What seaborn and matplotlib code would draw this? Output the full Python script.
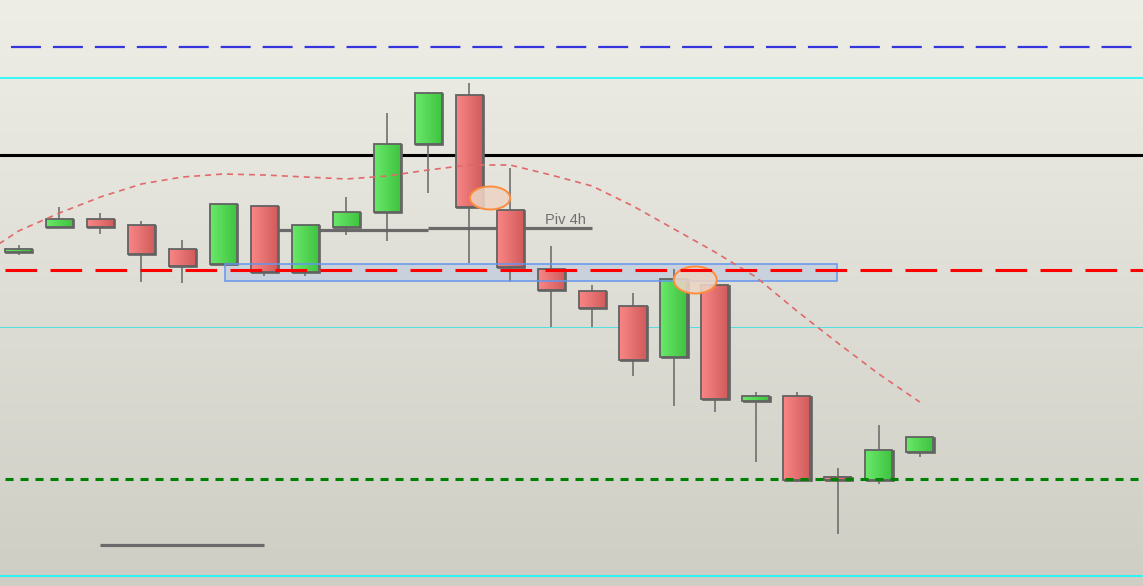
import numpy as np
import pandas as pd
import seaborn as sns
import matplotlib.pyplot as plt
from matplotlib.colors import LinearSegmentedColormap
from matplotlib.patches import Rectangle, Ellipse

# velas (indice 0..22), precos
abertura = [334, 359, 367, 361, 337, 322, 380, 314, 359, 374, 442, 491, 376,
            317, 295, 280, 229, 301, 185, 190, 109, 106, 134]
maxima = [341, 379, 373, 365, 346, 382, 380, 361, 389, 473, 494, 503, 418,
          340, 301, 293, 317, 301, 194, 194, 118, 161, 149]
minima = [331, 359, 352, 304, 303, 322, 310, 310, 351, 345, 393, 323, 304,
          259, 259, 210, 180, 174, 124, 104, 52, 102, 129]
fechamento = [337, 367, 359, 332, 320, 382, 314, 361, 374, 442, 493, 379, 319,
              296, 278, 226, 307, 187, 190, 106, 106.5, 136, 149]

# media movel
media_idx = list(range(-1, 23))
media = [328, 355, 373, 389, 402, 409, 412, 411, 409, 407, 410, 416, 421,
         421, 411, 400, 380, 357, 334, 309, 275, 243, 212, 184]

# niveis horizontais
nivel_azul = 539
nivel_ciano = [508, 259, 10]
nivel_preto = 431
nivel_vermelho = 316
nivel_verde = 107
zona = (5.04, 19.98, 305, 322)
pivos = [(2, 6, 41), (6, 10, 356), (10, 14, 358)]

sns.set_style("white")
plt.rcParams['lines.scale_dashes'] = False
plt.rcParams['font.family'] = ['Liberation Sans', 'DejaVu Sans']

fig = plt.figure(figsize=(11.43, 5.86), dpi=100)
ax = fig.add_axes([0, 0, 1, 1])
ax.set_axis_off()
x0, x1 = -0.452, 27.45

fundo = LinearSegmentedColormap.from_list('fundo', ['#cfcec5', '#eeeee7'])
ax.imshow(np.linspace(0, 1, 256).reshape(-1, 1), extent=[x0, x1, 0, 586],
          origin='lower', cmap=fundo, aspect='auto', zorder=0)

# linhas
ax.axhline(nivel_azul, color='#3535dd', lw=1.6, linestyle=(22.3, (21.6, 8.6)), zorder=1)
ax.axhline(nivel_ciano[0], color='#00ffff', lw=1.1, zorder=1)
ax.axhline(nivel_ciano[1], color='#50e0e0', lw=0.7, zorder=1)
ax.axhline(nivel_ciano[2], color='#00ffff', lw=1.1, zorder=1)
ax.axhline(nivel_preto, color='black', lw=2.2, zorder=1)

# zona
ax.add_patch(Rectangle((zona[0], zona[2]), zona[1] - zona[0], zona[3] - zona[2],
                       facecolor='#c9d1dc', edgecolor='none', zorder=2))
ax.add_patch(Rectangle((zona[0], zona[2]), zona[1] - zona[0], zona[3] - zona[2],
                       facecolor='none', edgecolor='#6495ed', lw=1.1, zorder=4.5))

for a, b, y in pivos:
    ax.plot([a, b], [y, y], color='#6a6a6a', lw=2.3, solid_capstyle='butt', zorder=2.5)

ax.text(12.85, 362, 'Piv 4h', fontsize=10.5, color='#707070', va='baseline', zorder=6)

verde = LinearSegmentedColormap.from_list('verde', ['#6ae86a', '#3ec23e'])
vermelho = LinearSegmentedColormap.from_list('vermelho', ['#f98686', '#d05a5a'])
grad = np.linspace(0, 1, 64).reshape(1, -1)

w = 0.66
for i, (o, h, l, c) in enumerate(zip(abertura, maxima, minima, fechamento)):
    sobe = c >= o
    base, topo = min(o, c), max(o, c)
    ax.vlines(i, l, h, color='#666666', lw=1.1, zorder=3)
    ax.add_patch(Rectangle((i - w / 2 + 0.035, base - 1), w, topo - base,
                           facecolor='#626262', edgecolor='#626262', lw=1.2, zorder=3.5))
    ax.imshow(grad, extent=[i - w / 2, i + w / 2, base, topo],
              cmap=verde if sobe else vermelho, aspect='auto', zorder=3.8)
    ax.add_patch(Rectangle((i - w / 2, base), w, topo - base, facecolor='none',
                           edgecolor='#626262', lw=1.3, zorder=4))

ax.add_patch(Ellipse((11.51, 388), 0.98, 23, facecolor=(0.92, 0.83, 0.77, 0.88),
                     edgecolor='#ff8c3c', lw=1.4, zorder=5))
ax.add_patch(Ellipse((16.52, 306), 1.05, 27, facecolor=(0.92, 0.83, 0.77, 0.88),
                     edgecolor='#ff8c3c', lw=1.4, zorder=5))

df_media = pd.DataFrame({'idx': media_idx, 'media': media})
sns.lineplot(data=df_media, x='idx', y='media', ax=ax, color='#e06a6a', lw=1.2,
             linestyle=(0, (4.3, 3.6)), zorder=5.5)

ax.axhline(nivel_vermelho, color='#ff0000', lw=2.2, linestyle=(28.8, (22.8, 9.6)), zorder=6)
ax.axhline(nivel_verde, color='#008000', lw=2.2, linestyle=(7.2, (5.8, 5.0)), zorder=6)

ax.set_xlim(x0, x1)
ax.set_ylim(0, 586)
ax.set_axis_off()
fig.savefig('out.png', dpi=100)
